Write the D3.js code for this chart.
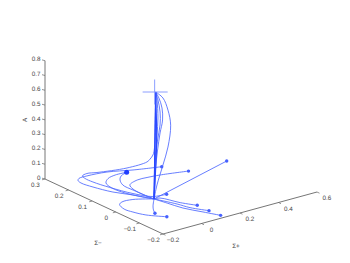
<!DOCTYPE html>
<html>
<head>
<meta charset="utf-8">
<script src="https://cdnjs.cloudflare.com/ajax/libs/d3/7.8.5/d3.min.js"></script>
<style>
body { margin: 0; background: white; }
text { font-family: "Liberation Sans", sans-serif; font-size: 6.3px; fill: #444; text-rendering: geometricPrecision; }
</style>
</head>
<body>
<div id="chart"></div>
<script>
// axis ticks
var aTicks = [0, 0.1, 0.2, 0.3, 0.4, 0.5, 0.6, 0.7, 0.8];
var smTicks = [0.3, 0.2, 0.1, 0, -0.1, -0.2];
var spTicks = [-0.2, 0, 0.2, 0.4, 0.6];

// trajectories as [Sigma+, Sigma-, A]
var centre = [0.017, 0.015, 0];
var top_ = [0.007, 0, 0.738];

var curveA = [[0.269, 0.188, 0], [0.152, 0.214, 0], [0.052, 0.243, 0], [-0.041, 0.252, 0], [-0.085, 0.250, 0], [-0.102, 0.240, 0], [-0.110, 0.221, 0], [-0.099, 0.179, 0], [-0.069, 0.119, 0], [-0.024, 0.071, 0], centre];
var curveB = [top_, [0.005, 0, 0.481], [0.001, 0, 0.362], [-0.007, 0, 0.317], [-0.022, 0, 0.295], [-0.038, 0, 0.281], [0.146, 0.235, 0], [0.016, 0.256, 0], [-0.024, 0.266, 0], [-0.056, 0.259, 0], [-0.065, 0.240, 0], [-0.064, 0.208, 0], [-0.047, 0.150, 0], [-0.014, 0.079, 0], [0.028, 0.032, 0], [0.091, 0.022, 0]];
var curveC = [[0.115, 0.211, 0], [0.058, 0.213, 0], [0.010, 0.204, 0], [-0.028, 0.182, 0], [-0.044, 0.144, 0], [-0.036, 0.095, 0], [-0.012, 0.051, 0], centre];
var curveC2 = [[0.115, 0.211, 0], [0.070, 0.198, 0], [0.039, 0.177, 0], [0.013, 0.144, 0], [0.011, 0.099, 0], centre];
var curveD = [centre, [-0.056, 0.045, 0], [-0.109, 0.048, 0], [-0.135, 0.037, 0], [-0.152, 0.004, 0], [-0.144, -0.027, 0], [-0.122, -0.064, 0], [-0.066, -0.107, 0]];
var curveE = [[-0.080, -0.068, 0], [-0.062, -0.047, 0], [-0.036, -0.024, 0], centre];
var curveF = [[0.326, 0.121, 0], [0.205, 0.143, 0], [0.145, 0.149, 0], [0.095, 0.150, 0], [0.036, 0.133, 0], [0.018, 0.105, 0], [0.012, 0.062, 0], centre];
var curveG1 = [centre, [0.043, 0.011, 0], [0.077, -0.047, 0], [0.114, -0.089, 0]];
var curveG2 = [centre, [0.057, -0.050, 0], [0.074, -0.091, 0], [0.115, -0.138, 0]];
var curveG3 = [centre, [0.031, -0.029, 0], [0.048, -0.082, 0], [0.086, -0.136, 0], [0.120, -0.183, 0]];
var curveH = [centre, [0.522, 0.119, 0]];
var arcR = [top_, [0.045, 0, 0.684], [0.071, 0, 0.593], [0.085, 0, 0.486], [0.071, 0, 0.343], [0.045, 0, 0.231], [0.014, 0, 0.107], centre];
var arcM1 = [top_, [0.024, 0, 0.691], [0.040, 0, 0.618], [0.043, 0, 0.536], [0.030, 0, 0.453], [0.017, 0, 0.342], [0.006, 0, 0.211], [0.001, 0, 0.078], centre];
var arcM2 = [top_, [0.019, 0, 0.680], [0.030, 0, 0.595], [0.030, 0, 0.507], [0.017, 0, 0.410], [0.006, 0, 0.278], [0.001, 0, 0.078], centre];
var arcM3 = [top_, [0.014, 0, 0.681], [0.019, 0, 0.558], [0.014, 0, 0.444], [0.006, 0, 0.312], [0.001, 0, 0.112], centre];
var stem1 = [top_, centre];
var stem2 = [top_, [0.012, 0, 0.40], centre];
var stem3 = [top_, [0.004, 0, 0.40], centre];

var trajectories = [curveA, curveB, curveC, curveC2, curveD, curveE, curveF, curveG1, curveG2, curveG3, curveH, arcR, arcM1, arcM2, arcM3];
var stems = [stem1, stem2, stem3];

// end points
var starts = [[0.522, 0.119, 0], [0.326, 0.121, 0], [0.269, 0.188, 0], [0.091, 0.022, 0], [0.114, -0.089, 0], [0.115, -0.138, 0], [0.120, -0.183, 0], [-0.066, -0.107, 0], [-0.080, -0.068, 0]];
var bigStart = [0.115, 0.211, 0];

var width = 350;
var height = 263;
var originX = 163;
var originY = 234;

// oblique view: each data axis gets its own x and y scale
var spX = d3.scaleLinear().domain([-0.2, 0.6]).range([0, 154]);
var spY = d3.scaleLinear().domain([-0.2, 0.6]).range([0, -42]);
var smX = d3.scaleLinear().domain([-0.2, 0.3]).range([0, -118]);
var smY = d3.scaleLinear().domain([-0.2, 0.3]).range([0, -55]);
var aY = d3.scaleLinear().domain([0, 0.8]).range([0, -118.3]);

function px(d) { return originX + spX(d[0]) + smX(d[1]); }
function py(d) { return originY + spY(d[0]) + smY(d[1]) + aY(d[2]); }

var svg = d3.select('#chart')
    .append('svg')
    .attr('width', width)
    .attr('height', height);

var axisColor = '#666';
var fmt = function (v) { return String(v).replace('-', '\u2212'); };

function axisLine(from, to) {
    svg.append('line')
        .attr('x1', px(from)).attr('y1', py(from))
        .attr('x2', px(to)).attr('y2', py(to))
        .attr('stroke', axisColor)
        .attr('stroke-width', 0.9);
}

axisLine([-0.2, 0.3, 0], [-0.2, 0.3, 0.8]);
axisLine([-0.2, 0.3, 0], [-0.2, -0.2, 0]);
axisLine([-0.2, -0.2, 0], [0.6, -0.2, 0]);

function ticks(values, point, dx, dy, lx, ly, anchor) {
    var g = svg.append('g');
    g.selectAll('line')
        .data(values)
        .enter()
        .append('line')
        .attr('x1', d => px(point(d)))
        .attr('y1', d => py(point(d)))
        .attr('x2', d => px(point(d)) + dx)
        .attr('y2', d => py(point(d)) + dy)
        .attr('stroke', axisColor)
        .attr('stroke-width', 0.7);
    g.selectAll('text')
        .data(values)
        .enter()
        .append('text')
        .attr('x', d => px(point(d)) + lx)
        .attr('y', d => py(point(d)) + ly)
        .attr('text-anchor', anchor)
        .attr('dominant-baseline', 'middle')
        .text(fmt);
}

ticks(aTicks, d => [-0.2, 0.3, d], -3, -0.8, -4.5, -1, 'end');
ticks(smTicks, d => [-0.2, d, 0], -3, 0.8, -9.5, 6, 'middle');
ticks(spTicks, d => [d, -0.2, 0], 2.5, 1.2, 10, 6.5, 'middle');

svg.append('text').attr('x', 98).attr('y', 243).attr('text-anchor', 'middle').attr('dominant-baseline', 'middle').text('\u03A3\u2212');
svg.append('text').attr('x', 236).attr('y', 246).attr('text-anchor', 'middle').attr('dominant-baseline', 'middle').text('\u03A3+');
svg.append('text')
    .attr('transform', 'translate(25,120) rotate(-90)')
    .attr('text-anchor', 'middle')
    .attr('dominant-baseline', 'middle')
    .text('A');

var line = d3.line()
    .x(px)
    .y(py)
    .curve(d3.curveCatmullRom.alpha(0.5));

svg.selectAll('path.traj')
    .data(trajectories)
    .enter()
    .append('path')
    .attr('class', 'traj')
    .attr('d', line)
    .attr('fill', 'none')
    .attr('stroke', '#4d68ff')
    .attr('stroke-width', 0.85);

svg.selectAll('path.stem')
    .data(stems)
    .enter()
    .append('path')
    .attr('class', 'stem')
    .attr('d', line)
    .attr('fill', 'none')
    .attr('stroke', '#2a48ff')
    .attr('stroke-width', 1.1);

svg.selectAll('circle.start')
    .data(starts)
    .enter()
    .append('circle')
    .attr('class', 'start')
    .attr('cx', px)
    .attr('cy', py)
    .attr('r', 1.7)
    .attr('fill', '#4560ff');

svg.append('circle')
    .attr('cx', px(bigStart))
    .attr('cy', py(bigStart))
    .attr('r', 2.5)
    .attr('fill', '#1f3dff');

// end marker
var cross = svg.append('g')
    .attr('stroke', '#7f93ff')
    .attr('stroke-width', 0.9);
cross.append('line')
    .attr('x1', px(top_) - 13).attr('x2', px(top_) + 12)
    .attr('y1', py(top_)).attr('y2', py(top_));
cross.append('line')
    .attr('x1', px(top_) - 1).attr('x2', px(top_) - 1)
    .attr('y1', py(top_) - 12.5).attr('y2', py(top_) + 12.5);
</script>
</body>
</html>
